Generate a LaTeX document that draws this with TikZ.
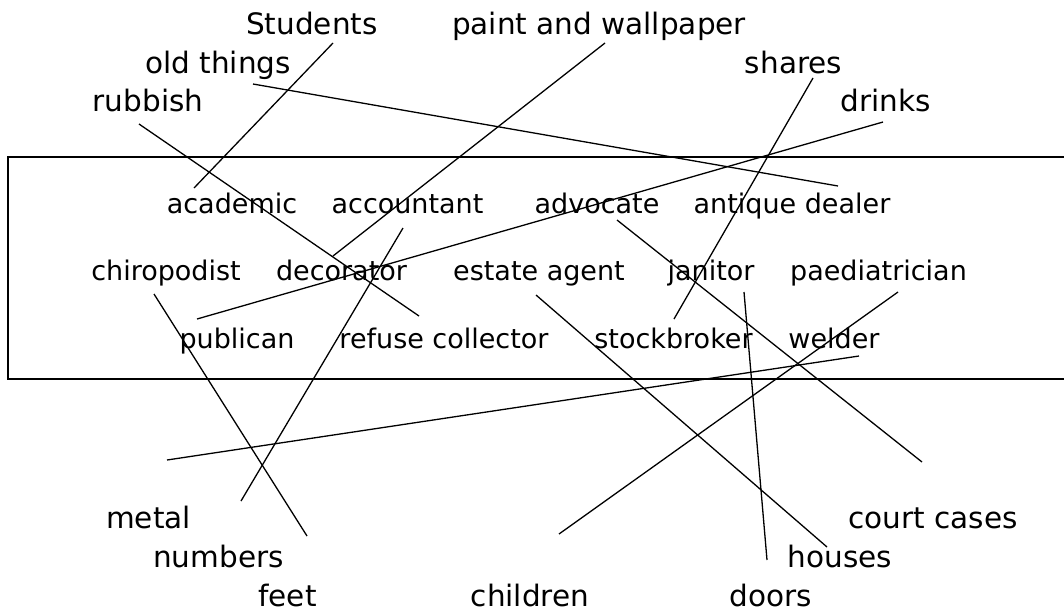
\documentclass[tikz,border=0pt]{standalone}
\usepackage{fontspec}
\setmainfont{DejaVu Sans}
\begin{document}
\begin{tikzpicture}[x=1pt,y=-1pt,
  inword/.style={anchor=base,inner sep=0pt,font=\fontsize{27}{30}\selectfont},
  outword/.style={anchor=base,inner sep=0pt,font=\fontsize{29.5}{32}\selectfont},
  link/.style={line width=1.3pt},
  frame/.style={line width=1.6pt}]
\useasboundingbox (0,0) rectangle (1064,614);
% frame (open at the right edge)
\draw[frame] (1064,157) -- (8,157) -- (8,379) -- (1064,379);
% words inside the frame
\node[inword] (academic) at (232,213) {academic};
\node[inword] (accountant) at (407.5,213) {accountant};
\node[inword] (advocate) at (597,213) {advocate};
\node[inword] (antique) at (792,213) {antique dealer};
\node[inword] (chiropodist) at (166,280) {chiropodist};
\node[inword] (decorator) at (341.5,280) {decorator};
\node[inword] (estate) at (539,280) {estate agent};
\node[inword] (janitor) at (711,280) {janitor};
\node[inword] (paediatrician) at (878.5,280) {paediatrician};
\node[inword] (publican) at (237,348) {publican};
\node[inword] (refuse) at (444,348) {refuse collector};
\node[inword] (stockbroker) at (673.5,348) {stockbroker};
\node[inword] (welder) at (834,348) {welder};
% words outside the frame
\node[outword] (students) at (312,34) {Students};
\node[outword] (paint) at (599,34) {paint and wallpaper};
\node[outword] (oldthings) at (218,73) {old things};
\node[outword] (shares) at (793.5,73) {shares};
\node[outword] (rubbish) at (148,111) {rubbish};
\node[outword] (drinks) at (886,111) {drinks};
\node[outword] (metal) at (148.5,528) {metal};
\node[outword] (courtcases) at (933,528) {court cases};
\node[outword] (numbers) at (218.5,567) {numbers};
\node[outword] (houses) at (840,567) {houses};
\node[outword] (feet) at (287.5,606) {feet};
\node[outword] (children) at (530,606) {children};
\node[outword] (doors) at (770.5,606) {doors};
% connector end points
\coordinate (c-students) at (333,43);
\coordinate (c-academic) at (194,188);
\coordinate (c-paint) at (605,43);
\coordinate (c-decorator) at (333,256);
\coordinate (c-oldthings) at (253,84);
\coordinate (c-antique) at (838,186);
\coordinate (c-rubbish) at (139,124);
\coordinate (c-refuse) at (419,316);
\coordinate (c-shares) at (813,78);
\coordinate (c-stockbroker) at (674,319);
\coordinate (c-drinks) at (883,122);
\coordinate (c-publican) at (197,319);
\coordinate (c-accountant) at (403,228);
\coordinate (c-numbers) at (241,501);
\coordinate (c-chiropodist) at (154,294);
\coordinate (c-feet) at (307,536);
\coordinate (c-welder) at (859,356);
\coordinate (c-metal) at (167,460);
\coordinate (c-estate) at (536,295);
\coordinate (c-houses) at (827,547);
\coordinate (c-advocate) at (617,220);
\coordinate (c-courtcases) at (922,462);
\coordinate (c-janitor) at (744,292);
\coordinate (c-doors) at (767,560);
\coordinate (c-paediatrician) at (898,292);
\coordinate (c-children) at (559,534);
% connectors
\draw[link] (c-students) -- (c-academic);
\draw[link] (c-paint) -- (c-decorator);
\draw[link] (c-oldthings) -- (c-antique);
\draw[link] (c-rubbish) -- (c-refuse);
\draw[link] (c-shares) -- (c-stockbroker);
\draw[link] (c-drinks) -- (c-publican);
\draw[link] (c-accountant) -- (c-numbers);
\draw[link] (c-chiropodist) -- (c-feet);
\draw[link] (c-welder) -- (c-metal);
\draw[link] (c-estate) -- (c-houses);
\draw[link] (c-advocate) -- (c-courtcases);
\draw[link] (c-janitor) -- (c-doors);
\draw[link] (c-paediatrician) -- (c-children);
\end{tikzpicture}
\end{document}
